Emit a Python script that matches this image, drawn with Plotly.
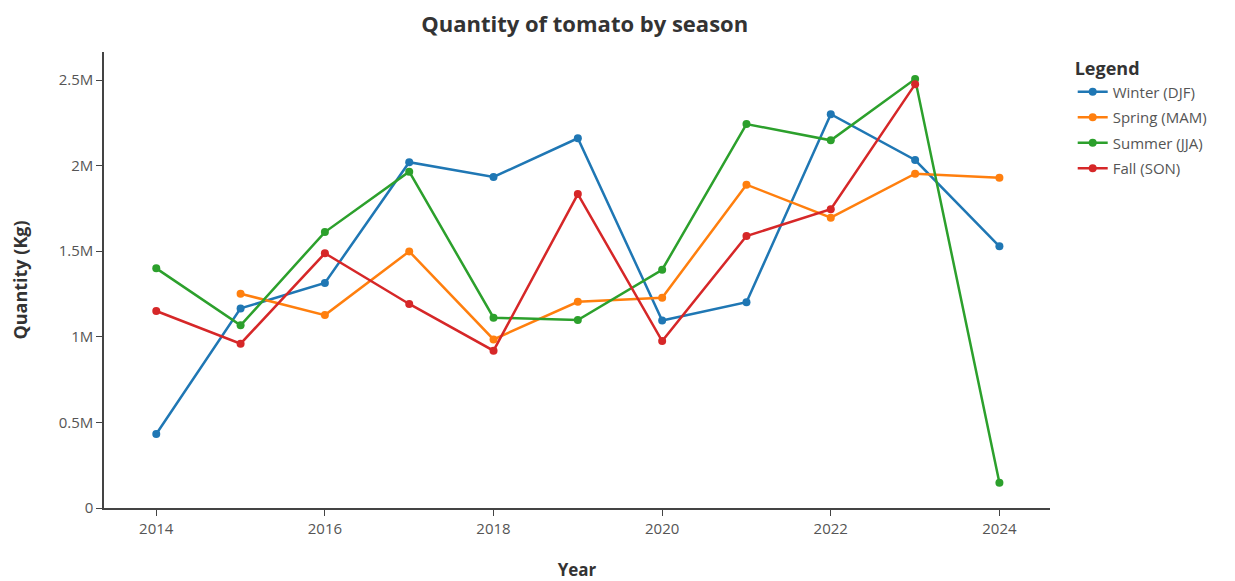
import plotly.graph_objects as go

years = [2014, 2015, 2016, 2017, 2018, 2019, 2020, 2021, 2022, 2023, 2024]
winter = [432000, 1166000, 1315000, 2020000, 1934000, 2160000, 1095000, 1202000, 2301000, 2033000, 1529000]
spring = [None, 1252000, 1127000, 1499000, 985000, 1205000, 1228000, 1889000, 1696000, 1953000, 1929000]
summer = [1400000, 1067000, 1612000, 1965000, 1112000, 1098000, 1392000, 2243000, 2148000, 2506000, 148000]
fall = [1151000, 960000, 1488000, 1192000, 919000, 1834000, 975000, 1589000, 1745000, 2475000, None]

series_names = ["Winter (DJF)", "Spring (MAM)", "Summer (JJA)", "Fall (SON)"]
series_values = [winter, spring, summer, fall]
colors = ["#1f77b4", "#ff7f0e", "#2ca02c", "#d62728"]

y_tickvals = [0, 500000, 1000000, 1500000, 2000000, 2500000]
y_ticktext = ["0", "0.5M", "1M", "1.5M", "2M", "2.5M"]
x_tickvals = [2014, 2016, 2018, 2020, 2022, 2024]

fig = go.Figure()
for name, vals, c in zip(series_names, series_values, colors):
    fig.add_trace(go.Scatter(
        x=years, y=vals, name=name, mode="lines+markers", legendgroup=name,
        line=dict(color=c, width=2.5), marker=dict(color=c, size=8),
    ))

axis_color = "#444"
fig.update_layout(
    width=1227, height=573,
    paper_bgcolor="white", plot_bgcolor="white",
    font=dict(family="Open Sans", color="#444"),
    title=dict(text="<b>Quantity of tomato by season</b>", x=0.47, xanchor="center",
               y=0.985, yanchor="top", font=dict(size=22, color="#333")),
    margin=dict(l=96, r=185, t=44, b=73),
    legend=dict(title=dict(text="<b>Legend</b>", font=dict(size=18, color="#333")),
                font=dict(size=15, color="#555"), x=1.024, y=1.0, xanchor="left", yanchor="top",
                tracegroupgap=3),
    xaxis=dict(title=dict(text="<b>Year</b>", font=dict(size=17, color="#333"), standoff=30),
               range=[2013.38, 2024.6], tickvals=x_tickvals, showgrid=False, zeroline=False,
               showline=True, linecolor=axis_color, linewidth=1.5, ticks="outside",
               ticklen=6, tickcolor=axis_color, tickfont=dict(size=15, color="#555"),
               automargin=False),
    yaxis=dict(title=dict(text="<b>Quantity (Kg)</b>", font=dict(size=18, color="#333"), standoff=26),
               range=[0, 2664000], tickvals=y_tickvals, ticktext=y_ticktext, showgrid=False,
               zeroline=False, showline=True, linecolor=axis_color, linewidth=1.5,
               ticks="outside", ticklen=6, tickcolor=axis_color, tickfont=dict(size=15, color="#555"),
               automargin=False),
)

fig.write_html("out.html")
